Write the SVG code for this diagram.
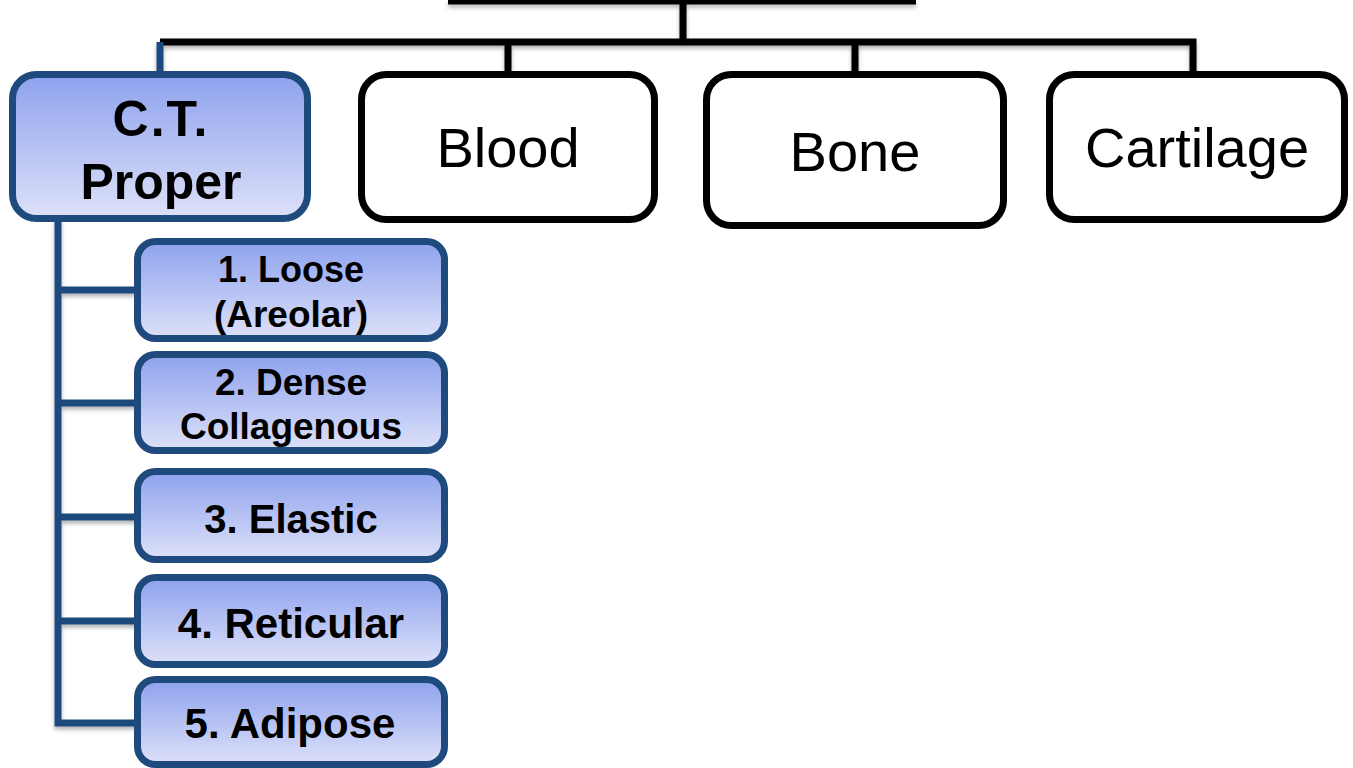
<svg xmlns="http://www.w3.org/2000/svg" width="1353" height="768" viewBox="0 0 1353 768">
  <defs>
    <linearGradient id="blueGrad" x1="0" y1="0" x2="0" y2="1">
      <stop offset="0" stop-color="#8ea2ee"/>
      <stop offset="1" stop-color="#dde1f8"/>
    </linearGradient>
    <filter id="shadow" x="-10%" y="-10%" width="120%" height="130%">
      <feDropShadow dx="0" dy="3" stdDeviation="2" flood-color="#000" flood-opacity="0.3"/>
    </filter>
  </defs>
  <style>
    .blk { fill: none; stroke: #000; stroke-width: 7; }
    .blu { fill: none; stroke: #1f4a7e; stroke-width: 7; }
    .wbox { fill: #fff; stroke: #000; stroke-width: 7; }
    .bbox { fill: url(#blueGrad); stroke: #1f4a7e; stroke-width: 7; }
    .reg { font-family: "Liberation Sans", Arial, sans-serif; font-size: 56px; fill: #000; text-anchor: middle; }
    .bold { font-family: "Liberation Sans", Arial, sans-serif; font-weight: bold; fill: #000; text-anchor: middle; }
  </style>
  <rect width="1353" height="768" fill="#fff"/>

  <g id="connectors" filter="url(#shadow)">
    <rect x="448" y="0" width="468" height="4.5" fill="#000"/>
    <path class="blk" d="M683 0 V42 M160 42 H1193 V75 M508 42 V75 M855 42 V75"/>
    <path class="blu" d="M160 42 V75"/>
    <path class="blu" d="M58 219 V723 H137 M58 290 H137 M58 403 H137 M58 517 H137 M58 621 H137"/>
  </g>

  <g id="node-ctproper">
    <rect class="bbox" x="12.5" y="74.5" width="295" height="144" rx="24"/>
    <text class="bold" x="161" y="136" font-size="50" letter-spacing="2">C.T.</text>
    <text class="bold" x="161" y="199" font-size="50">Proper</text>
  </g>
  <g id="node-blood">
    <rect class="wbox" x="361.5" y="74.5" width="293" height="145" rx="25"/>
    <text class="reg" x="508" y="167">Blood</text>
  </g>
  <g id="node-bone">
    <rect class="wbox" x="706.5" y="74.5" width="297" height="151" rx="25"/>
    <text class="reg" x="855" y="171">Bone</text>
  </g>
  <g id="node-cartilage">
    <rect class="wbox" x="1049.5" y="74.5" width="295" height="145" rx="25"/>
    <text class="reg" x="1197" y="167" font-size="59">Cartilage</text>
  </g>

  <g id="node-loose">
    <rect class="bbox" x="137.5" y="241.5" width="307" height="97" rx="18"/>
    <text class="bold" x="291" y="282" font-size="36">1. Loose</text>
    <text class="bold" x="291" y="327" font-size="37">(Areolar)</text>
  </g>
  <g id="node-dense">
    <rect class="bbox" x="137.5" y="354.5" width="307" height="96" rx="18"/>
    <text class="bold" x="291" y="395" font-size="37">2. Dense</text>
    <text class="bold" x="291" y="439" font-size="37">Collagenous</text>
  </g>
  <g id="node-elastic">
    <rect class="bbox" x="137.5" y="471.5" width="307" height="88" rx="18"/>
    <text class="bold" x="291" y="533" font-size="40">3. Elastic</text>
  </g>
  <g id="node-reticular">
    <rect class="bbox" x="137.5" y="577.5" width="307" height="87" rx="18"/>
    <text class="bold" x="291" y="638" font-size="42">4. Reticular</text>
  </g>
  <g id="node-adipose">
    <rect class="bbox" x="137.5" y="679.5" width="307" height="85" rx="18"/>
    <text class="bold" x="290" y="738" font-size="42">5. Adipose</text>
  </g>
</svg>
